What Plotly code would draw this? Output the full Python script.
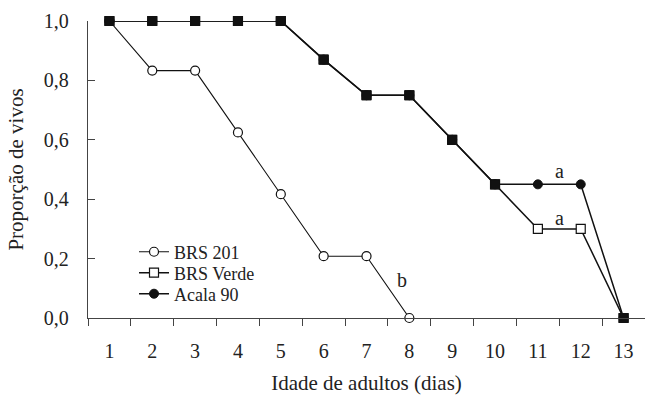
import plotly.graph_objects as go

dias = list(range(1, 14))
brs201_x = [1, 2, 3, 4, 5, 6, 7, 8]
brs201 = [1.0, 0.833, 0.833, 0.625, 0.417, 0.208, 0.208, 0.0]
brs_verde = [1.0, 1.0, 1.0, 1.0, 1.0, 0.87, 0.75, 0.75, 0.60, 0.45, 0.30, 0.30, 0.0]
acala90 = [1.0, 1.0, 1.0, 1.0, 1.0, 0.87, 0.75, 0.75, 0.60, 0.45, 0.45, 0.45, 0.0]
y_ticks = [0.0, 0.2, 0.4, 0.6, 0.8, 1.0]
labels = [(11.5, 0.495, "a"), (11.5, 0.337, "a"), (7.83, 0.128, "b")]

FONT = "Liberation Serif"
fig = go.Figure()
fig.add_trace(go.Scatter(
    x=brs201_x, y=brs201, name="BRS 201", mode="lines+markers", legend="legend",
    line=dict(color="#111", width=1.1),
    marker=dict(symbol="circle", size=9, color="white", line=dict(color="#111", width=1.2)),
    cliponaxis=False))
fig.add_trace(go.Scatter(
    x=dias, y=brs_verde, name="BRS Verde", mode="lines+markers", legend="legend2",
    line=dict(color="#111", width=1.5),
    marker=dict(symbol="square", size=9, color="white", line=dict(color="#111", width=1.2)),
    cliponaxis=False))
fig.add_trace(go.Scatter(
    x=dias, y=acala90, name="Acala 90", mode="lines+markers", legend="legend3",
    line=dict(color="#111", width=1.5),
    marker=dict(symbol="circle", size=9, color="#111", line=dict(color="#111", width=1)),
    cliponaxis=False))
ov_x = [d for d, v, a in zip(dias, brs_verde, acala90) if v == a]
ov_y = [v for v, a in zip(brs_verde, acala90) if v == a]
fig.add_trace(go.Scatter(
    x=ov_x, y=ov_y, mode="markers", showlegend=False, hoverinfo="skip",
    marker=dict(symbol="square", size=9, color="#111", line=dict(color="#111", width=1)),
    cliponaxis=False))

for x, y, t in labels:
    fig.add_annotation(x=x, y=y, text=t, showarrow=False,
                       font=dict(family=FONT, size=20, color="#222"))

def leg(y):
    return dict(x=0.0826, y=y, xanchor="left", yanchor="middle",
                font=dict(family=FONT, size=18, color="#222"),
                bgcolor="rgba(0,0,0,0)", itemwidth=30)

fig.update_layout(
    width=645, height=396,
    margin=dict(l=88, r=0, t=21, b=78),
    paper_bgcolor="white", plot_bgcolor="white",
    separators=", ",
    font=dict(family=FONT, size=20, color="#222"),
    showlegend=True,
    legend=leg(0.222), legend2=leg(0.1515), legend3=leg(0.0808),
    xaxis=dict(range=[0.5, 13.5], tickvals=dias, ticktext=[str(d) for d in dias],
               ticks="", showgrid=False, zeroline=False, automargin=False,
               ticklabelstandoff=15,
               showline=True, linecolor="#444", linewidth=1.3,
               minor=dict(tick0=0.5, dtick=1, ticks="outside", ticklen=7,
                          tickcolor="#444", tickwidth=1.3, showgrid=False),
               title=dict(text="Idade de adultos (dias)", standoff=14,
                          font=dict(family=FONT, size=21)),
               tickfont=dict(family=FONT, size=20)),
    yaxis=dict(range=[0, 1], tickvals=y_ticks, tickformat=".1f", automargin=False,
               ticks="inside", ticklen=7, tickcolor="#444", tickwidth=1.3,
               ticklabelstandoff=14,
               showgrid=False, zeroline=False,
               showline=True, linecolor="#444", linewidth=1.3,
               title=dict(text="Proporção de vivos", standoff=14,
                          font=dict(family=FONT, size=21)),
               tickfont=dict(family=FONT, size=20)),
)

fig.write_html("out.html", config={"displayModeBar": False},
               post_script="document.body.style.margin='0';")
